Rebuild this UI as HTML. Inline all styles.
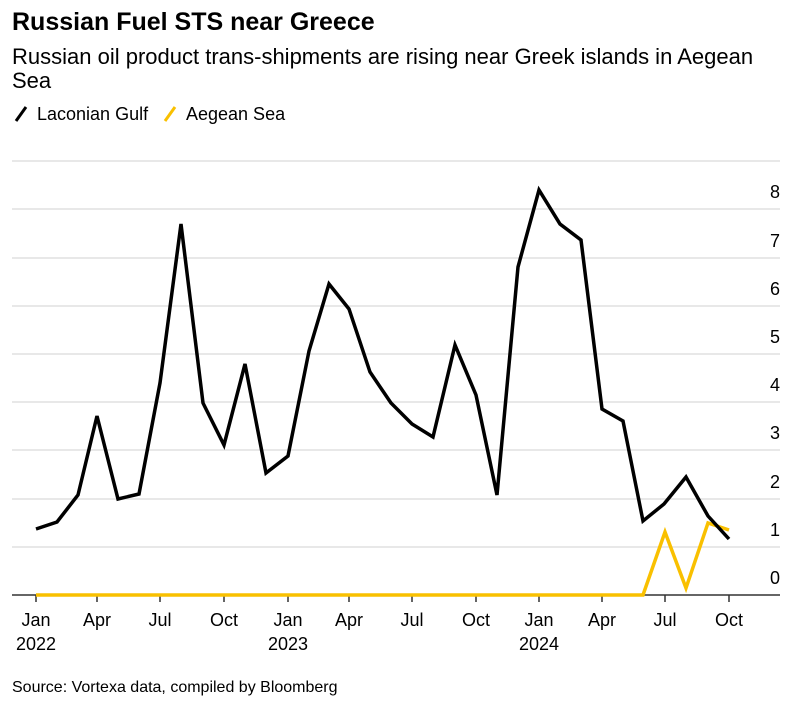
<!DOCTYPE html><html><head><style>body{margin:0;background:#fff;font-family:"Liberation Sans",sans-serif;color:#000}</style></head><body>
<svg width="800" height="710" xmlns="http://www.w3.org/2000/svg" font-family="Liberation Sans, sans-serif">
<text x="12" y="30" font-size="25" font-weight="bold">Russian Fuel STS near Greece</text>
<text x="12" y="64" font-size="22">Russian oil product trans-shipments are rising near Greek islands in Aegean</text>
<text x="12" y="88" font-size="22">Sea</text>
<line x1="16" y1="121" x2="26" y2="107" stroke="#000" stroke-width="3"/>
<text x="37" y="120" font-size="18">Laconian Gulf</text>
<line x1="165" y1="121" x2="175" y2="107" stroke="#f9c000" stroke-width="3"/>
<text x="186" y="120" font-size="18">Aegean Sea</text>
<g stroke="#e0e0e0" stroke-width="1.5">
<line x1="12" x2="780" y1="161" y2="161"/><line x1="12" x2="780" y1="209" y2="209"/><line x1="12" x2="780" y1="258" y2="258"/><line x1="12" x2="780" y1="306" y2="306"/><line x1="12" x2="780" y1="354" y2="354"/><line x1="12" x2="780" y1="402" y2="402"/><line x1="12" x2="780" y1="450" y2="450"/><line x1="12" x2="780" y1="499" y2="499"/><line x1="12" x2="780" y1="547" y2="547"/>
</g>
<g font-size="18" text-anchor="end">
<text x="780" y="198">8</text><text x="780" y="247">7</text><text x="780" y="295">6</text><text x="780" y="343">5</text><text x="780" y="391">4</text><text x="780" y="439">3</text><text x="780" y="488">2</text><text x="780" y="536">1</text><text x="780" y="584">0</text>
</g>
<line x1="12" x2="780" y1="595" y2="595" stroke="#333" stroke-width="1.5"/>
<g stroke="#333" stroke-width="1.5">
<line x1="36" x2="36" y1="595" y2="602"/><line x1="97" x2="97" y1="595" y2="602"/><line x1="160" x2="160" y1="595" y2="602"/><line x1="224" x2="224" y1="595" y2="602"/><line x1="288" x2="288" y1="595" y2="602"/><line x1="349" x2="349" y1="595" y2="602"/><line x1="412" x2="412" y1="595" y2="602"/><line x1="476" x2="476" y1="595" y2="602"/><line x1="539" x2="539" y1="595" y2="602"/><line x1="602" x2="602" y1="595" y2="602"/><line x1="665" x2="665" y1="595" y2="602"/><line x1="729" x2="729" y1="595" y2="602"/>
</g>
<g font-size="18" text-anchor="middle">
<text x="36" y="626">Jan</text><text x="97" y="626">Apr</text><text x="160" y="626">Jul</text><text x="224" y="626">Oct</text><text x="288" y="626">Jan</text><text x="349" y="626">Apr</text><text x="412" y="626">Jul</text><text x="476" y="626">Oct</text><text x="539" y="626">Jan</text><text x="602" y="626">Apr</text><text x="665" y="626">Jul</text><text x="729" y="626">Oct</text>
<text x="36" y="650">2022</text><text x="288" y="650">2023</text><text x="539" y="650">2024</text>
</g>
<polyline fill="none" stroke="#f9c000" stroke-width="3.5" points="36,595 643,595 665,532 686,588 708,523 729,530"/>
<polyline fill="none" stroke="#000" stroke-width="3.5" points="36,529 57,522 78,495 97,416 118,499 139,494 160,383 181,224 203,403 224,445 245,364 266,473 288,456 309,351 329,284 349,309 370,372 391,403 412,424 433,437 455,345 476,395 497,495 518,267 539,190 560,224 581,240 602,409 623,421 643,521 664,504 686,477 708,516 729,539"/>
<text x="12" y="692" font-size="16">Source: Vortexa data, compiled by Bloomberg</text>
</svg>
</body></html>
